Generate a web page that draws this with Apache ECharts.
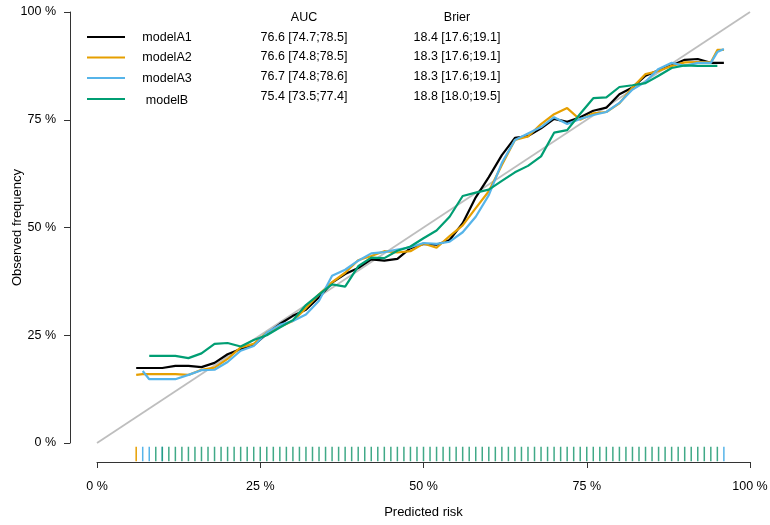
<!DOCTYPE html>
<html><head><meta charset="utf-8">
<script src="https://cdn.jsdelivr.net/npm/echarts@6/dist/echarts.min.js"></script>
<style>html,body{margin:0;padding:0;background:#fff}#c{width:770px;height:525px}</style>
</head><body><div id="c"></div>
<script>
// Predicted risk (%) grid
const xs = [6,7,8,10,12,14,16,18,20,22,24,26,28,30,32,34,36,38,40,42,44,46,48,50,52,54,56,58,60,62,64,66,68,70,72,74,76,78,80,82,84,86,88,90,92,94,95,96];
// Observed frequency (%) per model
const modelA1 = [17.4,17.4,17.4,17.4,17.9,17.9,17.6,18.6,20.6,21.8,22.7,25.3,27.6,29.5,30.9,33.8,37.2,39.2,40.6,42.6,42.3,42.7,45.2,46.2,46.0,47.1,51.0,57.0,61.7,66.8,70.8,71.2,73.0,75.2,74.5,75.6,77.1,77.8,80.9,82.5,85.2,86.5,87.6,88.9,89.1,88.2,88.2,88.2];
const modelA2 = [15.8,16.0,16.0,16.0,16.0,15.8,17.0,17.5,19.5,22.2,23.0,25.6,27.0,28.3,31.3,34.5,37.3,39.5,42.4,43.4,44.5,44.2,44.5,46.3,45.3,48.0,50.5,54.5,58.4,64.5,70.3,71.1,74.0,76.3,77.7,75.0,76.5,76.8,78.8,82.5,85.6,86.3,87.5,88.3,88.4,88.3,91.2,91.2];
const modelA3 = ['-',16.7,14.8,14.8,14.8,15.8,16.9,17.0,18.8,21.4,22.5,25.6,27.4,28.3,29.8,33.0,38.8,40.2,42.3,44.0,44.3,44.9,45.4,46.4,46.2,46.7,48.9,52.5,57.5,65.0,70.3,71.8,73.3,75.6,74.0,75.2,76.1,76.8,78.9,82.0,83.8,86.8,88.2,87.5,88.2,88.2,90.7,91.4];
const modelB  = ['-','-',20.2,20.2,20.2,19.7,20.8,23.0,23.2,22.4,23.9,25.0,26.8,28.5,32.0,34.5,36.8,36.3,41.0,43.0,42.9,44.6,45.6,47.5,49.3,52.5,57.3,58.1,58.8,60.8,62.8,64.3,66.5,72.0,72.6,76.4,80.0,80.2,82.6,83.0,83.5,85.2,87.0,87.6,87.5,87.5,87.5,'-'];
const modelNames = ['modelA1','modelA2','modelA3','modelB'];
const modelColors = ['#000000','#E69F00','#56B4E9','#009E73'];
const aucText = ['76.6 [74.7;78.5]','76.6 [74.8;78.5]','76.7 [74.8;78.6]','75.4 [73.5;77.4]'];
const brierText = ['18.4 [17.6;19.1]','18.3 [17.6;19.1]','18.3 [17.6;19.1]','18.8 [18.0;19.5]'];
// rug positions (predicted risk %)
const rugA2 = [6];
const rugA3 = [7,8,10,96];
const rugB = [9,10,11,12,13,14,15,16,17,18,19,20,21,22,23,24,25,26,27,28,29,30,31,32,33,34,35,36,37,38,39,40,41,42,43,44,45,46,47,48,49,50,51,52,53,54,55,56,57,58,59,60,61,62,63,64,65,66,67,68,69,70,71,72,73,74,75,76,77,78,79,80,81,82,83,84,85,86,87,88,89,90,91,92,93,94,95];
const diag = [[0,0],[100,100]];

const FONT = 'Liberation Sans, Arial, Helvetica, sans-serif';
const series = [];
series.push({type:'line', data:diag, symbol:'none', silent:true, lineStyle:{color:'#BEBEBE', width:1.8}, z:1});
const all = [modelA1, modelA2, modelA3, modelB];
all.forEach((ys,i)=>{
  series.push({type:'line', name:modelNames[i], data: xs.map((x,j)=>[x, ys[j]]), symbol:'none', connectNulls:false,
    lineStyle:{color:modelColors[i], width:2.2}, itemStyle:{color:modelColors[i]}, z:2+i});
});
const RUG_Y = -2.55;
function rug(arr, color, op){
  return {type:'scatter', data: arr.map(x=>[x, RUG_Y]), symbol:'rect', symbolSize:[1.5,14.5], clip:false, silent:true,
    itemStyle:{color:color, opacity:op}, z:2};
}
series.push(rug(rugA2, '#E69F00', 1));
series.push(rug(rugA3, '#56B4E9', 1));
series.push(rug(rugB, '#1E9A72', 0.85));

const graphic = [];
const legLineY = [37, 57.5, 78, 99];
const legTextY = [37.5, 58, 78.5, 100.5];
const rowY = [37.5, 57, 77, 96.5];
const tstyle = (text,x,y)=>({type:'text', style:{text, x, y, fill:'#000', font:'12.5px '+FONT, textAlign:'center', align:'center', textVerticalAlign:'middle', verticalAlign:'middle'}});
graphic.push(tstyle('AUC', 304, 18));
graphic.push(tstyle('Brier', 457, 18));
modelNames.forEach((n,i)=>{
  graphic.push({type:'line', shape:{x1:87,y1:legLineY[i],x2:125,y2:legLineY[i]}, style:{stroke:modelColors[i], lineWidth:2.2}});
  graphic.push(tstyle(n, 167, legTextY[i]));
  graphic.push(tstyle(aucText[i], 304, rowY[i]));
  graphic.push(tstyle(brierText[i], 457, rowY[i]));
});

const chart = echarts.init(document.getElementById('c'), null, {renderer:'canvas'});
chart.setOption({
  animation:false,
  backgroundColor:'#fff',
  textStyle:{fontFamily:FONT},
  grid:{left:97, right:20, top:12, bottom:82, containLabel:false, outerBoundsMode:'none'},
  xAxis:{type:'value', min:0, max:100, interval:25, offset:19,
    name:'Predicted risk', nameLocation:'middle', nameGap:44, nameTextStyle:{fontSize:13, color:'#000', fontFamily:FONT},
    axisLine:{show:true, onZero:false, lineStyle:{color:'#333', width:1}},
    axisTick:{show:true, length:6, lineStyle:{color:'#333'}},
    axisLabel:{formatter:'{value} %', fontSize:12.5, color:'#000', margin:18, fontFamily:FONT},
    splitLine:{show:false}},
  yAxis:{type:'value', min:0, max:100, interval:25, offset:27,
    name:'Observed frequency', nameLocation:'middle', nameGap:46, nameMoveOverlap:false, nameRotate:90, nameTextStyle:{fontSize:13, color:'#000', fontFamily:FONT},
    axisLine:{show:true, onZero:false, lineStyle:{color:'#333', width:1}},
    axisTick:{show:true, length:6, lineStyle:{color:'#333'}},
    axisLabel:{formatter:'{value} %', fontSize:12.5, color:'#000', margin:14, fontFamily:FONT},
    splitLine:{show:false}},
  graphic: graphic,
  series: series
});
</script></body></html>
